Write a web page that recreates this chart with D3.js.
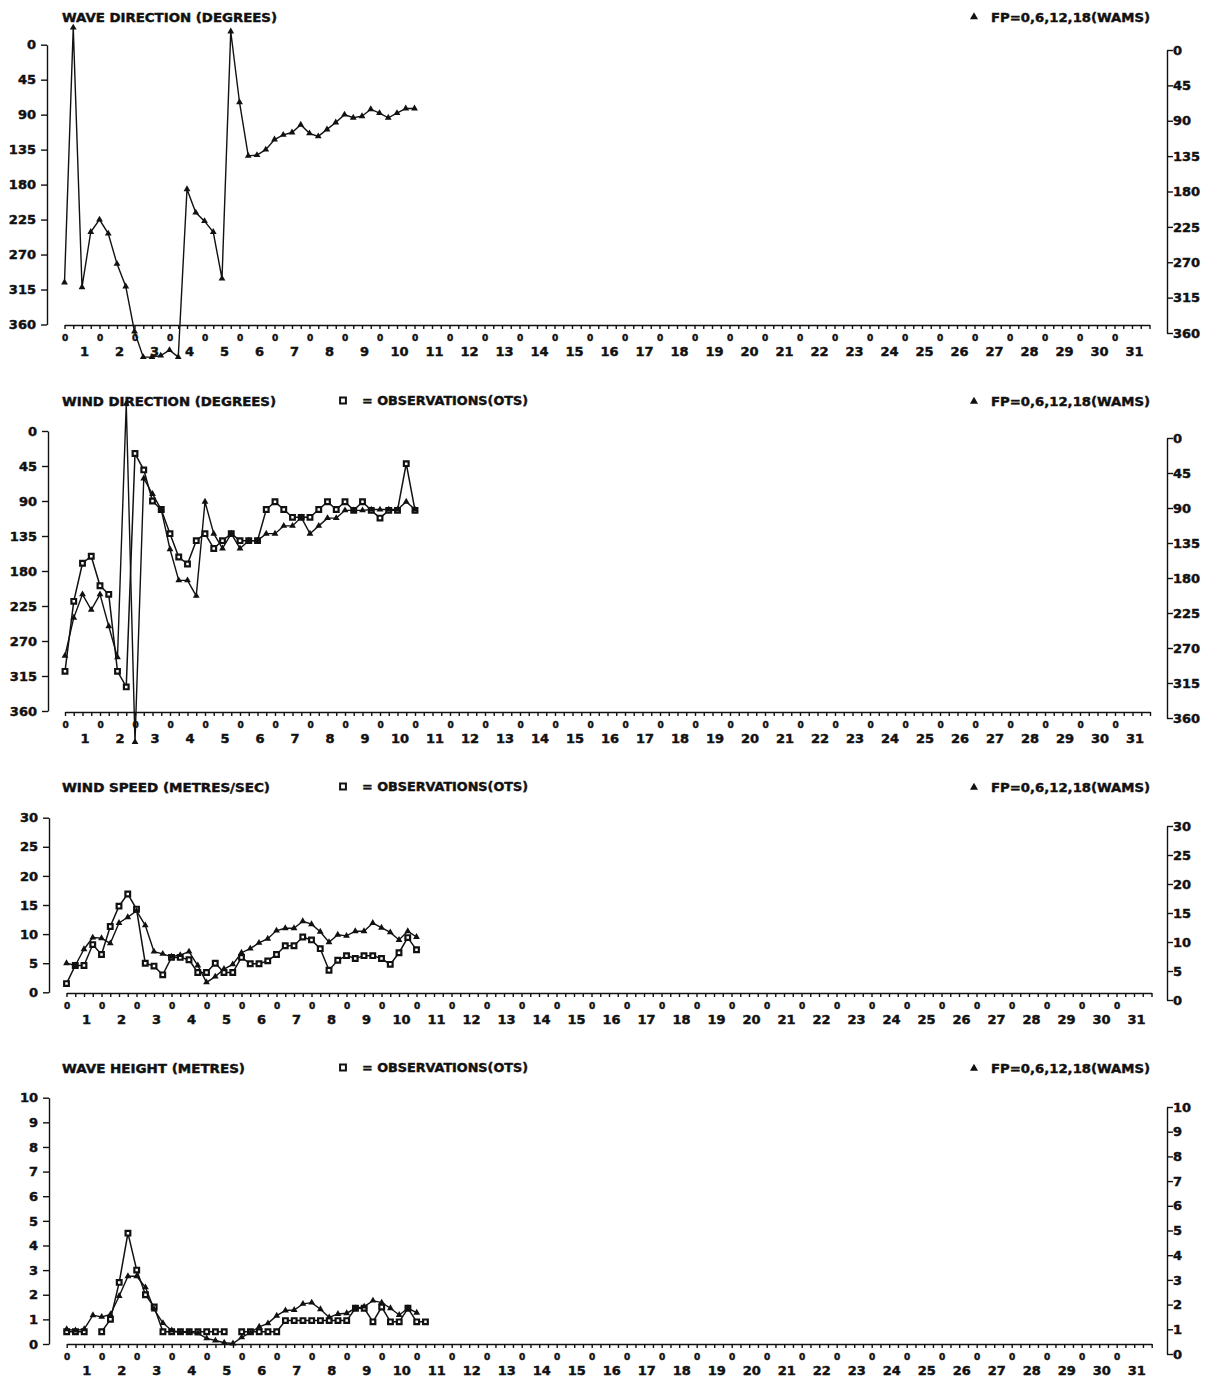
<!DOCTYPE html>
<html>
<head>
<meta charset="utf-8">
<script src="https://cdn.jsdelivr.net/npm/d3@7"></script>
<style>
  body { margin: 0; background: #fff; }
  svg { display: block; background: #fff; }
  text { font-family: "DejaVu Sans", sans-serif; font-weight: bold; fill: #111; stroke: #111; stroke-width: 0.45px; }
</style>
</head>
<body>
<svg id="chart" width="1220" height="1389"></svg>
<script>
// ---- Month axis: 31 days, 6-hourly steps (00, 06, 12, 18 UTC) ----
const dayNumbers = d3.range(1, 32);
const stepsPerDay = 4;

// ---- Tick values of the value axes ----
const directionTicks = [0, 45, 90, 135, 180, 225, 270, 315, 360];
const speedTicks = [0, 5, 10, 15, 20, 25, 30];
const heightTicks = [0, 1, 2, 3, 4, 5, 6, 7, 8, 9, 10];

// ---- Series, one value every 6 hours from day 1 00h (null = no report) ----
const waveDirModel = [306, -22, 312, 241, 225, 243, 282, 311, 369, 402, 402, 400, 393, 402,
  186, 216, 227, 241, 301, -17, 74, 143, 142, 135, 122, 116, 113, 103, 114, 118,
  109, 100, 90, 94, 92, 83, 88, 94, 88, 82, 82];

const windDirModel = [289, 240, 210, 230, 210, 251, 291, -35, 400, 61, 81, 101, 152, 192,
  192, 212, 91, 132, 151, 132, 151, 141, 141, 132, 132, 122, 122, 111, 132, 122,
  112, 112, 102, 102, 102, 101, 101, 101, 101, 91, 101];
const windDirObs = [309, 219, 170, 161, 199, 210, 309, 329, 29, 50, 90, 101, 132, 162,
  171, 141, 132, 151, 141, 132, 141, 141, 141, 101, 91, 101, 111, 111, 111, 101,
  91, 101, 91, 102, 91, 102, 112, 102, 102, 42, 102];

const windSpeedModel = [5.0, 4.6, 7.4, 9.4, 9.3, 8.4, 11.9, 12.9, 14.0, 11.5, 7.0, 6.6, 6.1,
  6.4, 7.0, 4.6, 1.7, 2.7, 4.0, 4.8, 6.8, 7.5, 8.5, 9.2, 10.6, 11.0, 11.0, 12.2, 11.7,
  10.4, 8.6, 9.9, 9.7, 10.5, 10.5, 11.9, 11.1, 10.3, 9.0, 10.5, 9.5];
const windSpeedObs = [1.5, 4.6, 4.6, 8.2, 6.5, 11.3, 14.8, 16.9, 14.3, 5.0, 4.5, 3.0, 6.0,
  6.0, 5.6, 3.4, 3.4, 5.0, 3.4, 3.4, 6.0, 4.9, 4.9, 5.4, 6.5, 8.0, 8.0, 9.5, 9.0, 7.5,
  3.8, 5.5, 6.3, 5.8, 6.3, 6.3, 5.8, 4.8, 6.8, 9.4, 7.3];

const waveHeightModel = [0.6, 0.55, 0.6, 1.17, 1.1, 1.2, 1.95, 2.75, 2.75, 2.3, 1.4, 0.85,
  0.55, 0.47, 0.47, 0.43, 0.23, 0.14, 0.05, 0.02, 0.27, 0.46, 0.7, 0.84, 1.15, 1.36,
  1.38, 1.63, 1.68, 1.41, 1.08, 1.22, 1.25, 1.45, 1.52, 1.76, 1.68, 1.45, 1.18, 1.45, 1.27];
const waveHeightObs = [0.5, 0.5, 0.5, null, 0.5, 1.0, 2.5, 4.5, 3.0, 2.0, 1.5, 0.5, 0.5, 0.5,
  0.5, 0.5, 0.5, 0.5, 0.5, null, 0.5, 0.5, 0.5, 0.5, 0.5, 0.95, 0.95, 0.95, 0.95, 0.95,
  0.95, 0.95, 0.95, 1.45, 1.45, 0.9, 1.5, 0.9, 0.9, 1.45, 0.9, 0.9];

// ---- Legend / title text ----
const modelLegend = "FP=0,6,12,18(WAMS)";
const obsLegend = "= OBSERVATIONS(OTS)";

// ---- Panel layout ----
const panels = [
  { title: "WAVE DIRECTION (DEGREES)", titleLen: 215, model: waveDirModel, obs: null,
    domain: [0, 360], ticks: directionTicks,
    x0: 64.5, leftX: 47, yLo: 44.7, yHi: 324.5, rLo: 50, rHi: 333, axisY: 325, headY: 21.5 },
  { title: "WIND DIRECTION (DEGREES)", titleLen: 214, model: windDirModel, obs: windDirObs,
    domain: [0, 360], ticks: directionTicks,
    x0: 65, leftX: 48, yLo: 431, yHi: 711, rLo: 438, rHi: 718, axisY: 712, headY: 406 },
  { title: "WIND SPEED (METRES/SEC)", titleLen: 208, model: windSpeedModel, obs: windSpeedObs,
    domain: [0, 30], ticks: speedTicks,
    x0: 66.5, leftX: 49, yLo: 992.3, yHi: 817.7, rLo: 1000, rHi: 826, axisY: 993, headY: 792 },
  { title: "WAVE HEIGHT (METRES)", titleLen: 183, model: waveHeightModel, obs: waveHeightObs,
    domain: [0, 10], ticks: heightTicks,
    x0: 66.7, leftX: 49, yLo: 1344, yHi: 1097.7, rLo: 1354, rHi: 1107, axisY: 1344, headY: 1073 }
];

const ink = "#111";
const svg = d3.select("#chart");
const nSteps = dayNumbers.length * stepsPerDay;

const triangle = d3.symbol().type(d3.symbolTriangle);
const square = d3.symbol().type(d3.symbolSquare);

function styleAxis(g, fontSize) {
  g.attr("font-family", null).attr("font-size", fontSize);
  g.selectAll("path, line").attr("stroke", ink).attr("stroke-width", 1.4);
  g.selectAll("text").attr("fill", ink);
}

panels.forEach(p => {
  const g = svg.append("g");
  const x = d3.scaleLinear().domain([0, nSteps]).range([p.x0, p.x0 + 1085]);
  const y = d3.scaleLinear().domain(p.domain).range([p.yLo, p.yHi]);
  const yRight = d3.scaleLinear().domain(p.domain).range([p.rLo, p.rHi]);

  // left value axis
  g.append("g")
    .attr("transform", `translate(${p.leftX},0)`)
    .call(d3.axisLeft(y).tickValues(p.ticks).tickSize(6).tickSizeOuter(0).tickPadding(5))
    .call(a => styleAxis(a, 13));

  // right value axis
  g.append("g")
    .attr("transform", "translate(1167,0)")
    .call(d3.axisRight(yRight).tickValues(p.ticks).tickSize(6).tickSizeOuter(0).tickPadding(0))
    .call(a => styleAxis(a, 13));

  // time axis: a tick every 6 hours
  g.append("g")
    .attr("transform", `translate(0,${p.axisY})`)
    .call(d3.axisBottom(x).tickValues(d3.range(0, nSteps + 1)).tickSize(4).tickSizeOuter(0).tickFormat(""))
    .call(a => styleAxis(a, 12));

  // "0" hour marks at the start of each day
  g.append("g")
    .attr("transform", `translate(0,${p.axisY})`)
    .call(d3.axisBottom(x).tickValues(d3.range(0, nSteps, stepsPerDay)).tickSize(0).tickPadding(10).tickFormat(() => "0"))
    .call(a => { styleAxis(a, 9); a.select(".domain").remove(); });

  // day numbers at midday
  g.append("g")
    .attr("transform", `translate(2,${p.axisY})`)
    .call(d3.axisBottom(x).tickValues(dayNumbers.map((d, i) => i * stepsPerDay + 2))
      .tickSize(0).tickPadding(22).tickFormat((d, i) => dayNumbers[i]))
    .call(a => { styleAxis(a, 13); a.select(".domain").remove(); });

  // headings
  g.append("text").attr("x", 62).attr("y", p.headY)
    .attr("font-size", 12.5).attr("textLength", p.titleLen).attr("lengthAdjust", "spacingAndGlyphs")
    .text(p.title);
  g.append("path").attr("d", triangle.size(28)())
    .attr("transform", `translate(974,${p.headY - 4.5})`).attr("fill", ink);
  g.append("text").attr("x", 991).attr("y", p.headY)
    .attr("font-size", 12.5).attr("textLength", 159).attr("lengthAdjust", "spacingAndGlyphs")
    .text(modelLegend);
  if (p.obs) {
    g.append("path").attr("d", square.size(34)())
      .attr("transform", `translate(343,${p.headY - 5.5})`)
      .attr("fill", "#fff").attr("stroke", ink).attr("stroke-width", 2);
    g.append("text").attr("x", 362).attr("y", p.headY - 1.5)
      .attr("font-size", 12.5).attr("textLength", 166).attr("lengthAdjust", "spacingAndGlyphs")
      .text(obsLegend);
  }

  const line = d3.line()
    .defined(d => d != null)
    .x((d, i) => x(i))
    .y(d => y(d));

  // observations
  if (p.obs) {
    g.append("path").datum(p.obs)
      .attr("d", line).attr("fill", "none").attr("stroke", ink).attr("stroke-width", 1.5);
    g.selectAll(".obs").data(p.obs.map((v, i) => [i, v]).filter(d => d[1] != null))
      .join("path").attr("class", "obs")
      .attr("d", square.size(22)())
      .attr("transform", d => `translate(${x(d[0])},${y(d[1])})`)
      .attr("fill", "#fff").attr("stroke", ink).attr("stroke-width", 2.2);
  }

  // model series
  g.append("path").datum(p.model)
    .attr("d", line).attr("fill", "none").attr("stroke", ink).attr("stroke-width", 1.4);
  g.selectAll(".mod").data(p.model.map((v, i) => [i, v]))
    .join("path").attr("class", "mod")
    .attr("d", triangle.size(20)())
    .attr("transform", d => `translate(${x(d[0])},${y(d[1])})`)
    .attr("fill", ink);
});
</script>
</body>
</html>
